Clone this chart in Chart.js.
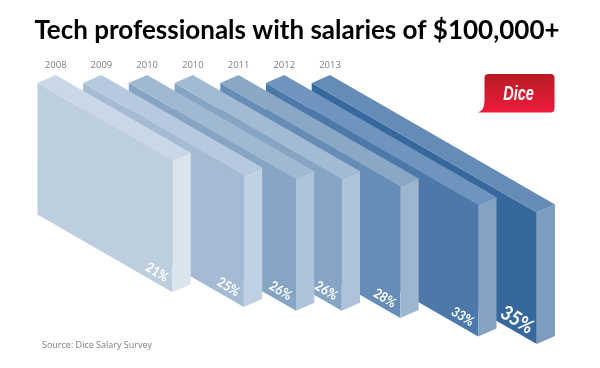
<!DOCTYPE html>
<html>
<head>
<meta charset="utf-8">
<style>html,body{margin:0;padding:0;background:#fff}canvas{display:block}</style>
<script src="https://cdn.jsdelivr.net/npm/chart.js@4"></script>
</head>
<body>
<canvas id="c" width="600" height="368"></canvas>
<script>
const TITLE = 'Tech professionals with salaries of $100,000+';
const SOURCE = 'Source: Dice Salary Survey';
const years = ['2008','2009','2010','2010','2011','2012','2013'];
const shares = [21,25,26,26,28,33,35];
const frontColors = ['#BDCEDF','#A5BBD3','#86A5C4','#86A4C3','#658DB6','#4C79A9','#36689E'];
const topColors   = ['#CAD7E6','#B6C9DF','#A1B8D2','#A3BAD4','#8AA7C6','#6F94BD','#658CB6'];
const sideColors  = ['#DAE4EE','#BFD1E2','#AFC3DA','#AEC2D9','#9DB5CF','#84A3C3','#7C9DC0'];
const labelSizes  = [13,13,13,13,13,13,19];

const THICK_X = 18.3, THICK_Y = 8, FACE_H = 131.5, RUN = 1.738;
function poly(ctx, pts, color){
  ctx.beginPath();
  pts.forEach((p,i)=> i ? ctx.lineTo(p[0],p[1]) : ctx.moveTo(p[0],p[1]));
  ctx.closePath();
  ctx.fillStyle = color; ctx.fill();
}
const slabPlugin = {
  id:'slabs',
  beforeDatasetDraw(chart,args){
    const ctx = chart.ctx, bars = args.meta.data;
    ctx.save();
    for(let i=bars.length-1;i>=0;i--){
      const b = bars[i];
      const y0 = b.base, y1 = b.y;
      const x0 = b.x - THICK_X, x1 = x0 + (y1-y0)*RUN;
      poly(ctx,[[x0,y0],[x1,y1],[x1,y1+FACE_H],[x0,y0+FACE_H]],frontColors[i]);
      poly(ctx,[[x0,y0],[x0+THICK_X,y0-THICK_Y],[x1+THICK_X,y1-THICK_Y],[x1,y1]],topColors[i]);
      poly(ctx,[[x1,y1],[x1+THICK_X,y1-THICK_Y],[x1+THICK_X,y1+FACE_H-THICK_Y],[x1,y1+FACE_H]],sideColors[i]);
      const s = labelSizes[i], k = s/13;
      ctx.save();
      ctx.translate(x1-15.5-(k-1)*9, y1+FACE_H-20-(k-1)*9);
      ctx.rotate(0.55);
      ctx.scale(0.92,1.05);
      ctx.fillStyle='#fff';
      ctx.font = 'bold '+s+'px Lato';
      ctx.textAlign='center'; ctx.textBaseline='middle';
      ctx.fillText(shares[i]+'%',0,0);
      ctx.restore();
    }
    ctx.restore();
    return false;
  },
  afterDraw(chart){
    const ctx = chart.ctx;
    ctx.save();
    ctx.font='9px "Open Sans"'; ctx.fillStyle='#808080';
    ctx.textAlign='left'; ctx.textBaseline='middle';
    ctx.fillText(SOURCE,42,345);
    const L=484.5,R=554.5,T=74,B=112.5,r=4;
    const g=ctx.createLinearGradient(0,T,0,B);
    g.addColorStop(0,'#B61C22'); g.addColorStop(1,'#EE1B3B');
    ctx.beginPath();
    ctx.moveTo(L+r,T); ctx.lineTo(R-r,T); ctx.quadraticCurveTo(R,T,R,T+r);
    ctx.lineTo(R,B-r); ctx.quadraticCurveTo(R,B,R-r,B);
    ctx.lineTo(478,B); ctx.quadraticCurveTo(L,B-2,L,B-12);
    ctx.lineTo(L,T+r); ctx.quadraticCurveTo(L,T,L+r,T);
    ctx.closePath(); ctx.fillStyle=g; ctx.fill();
    ctx.translate(518.5,94); ctx.scale(0.72,1.0);
    ctx.fillStyle='#fff'; ctx.font='italic bold 20px "Liberation Sans"';
    ctx.textAlign='center'; ctx.fillText('Dice',0,0);
    ctx.restore();
  }
};
new Chart(document.getElementById('c'),{
  type:'bar',
  data:{labels:years,datasets:[{data:shares,backgroundColor:frontColors,borderWidth:0}]},
  plugins:[slabPlugin],
  options:{
    responsive:false,animation:false,
    layout:{padding:{left:32.85,right:38.85,top:0,bottom:7.5}},
    plugins:{
      legend:{display:false},tooltip:{enabled:false},
      title:{display:true,text:TITLE,align:'center',color:'#000',
        font:{family:'Lato',weight:'bold',size:26,lineHeight:1.2},
        padding:{top:15,bottom:13.8}}
    },
    scales:{
      x:{position:'top',offset:true,grid:{display:false,drawTicks:false},border:{display:false},
        ticks:{color:'#7f7f7f',padding:12.3,maxRotation:0,autoSkip:false,font:{family:'Open Sans',size:9.5}},
        afterFit(s){s.height=23;}},
      y:{position:'right',reverse:true,min:0,max:75,grid:{display:false},border:{display:false},
        ticks:{display:false},afterFit(s){s.width=208.3;}}
    }
  }
});
</script>
</body>
</html>
